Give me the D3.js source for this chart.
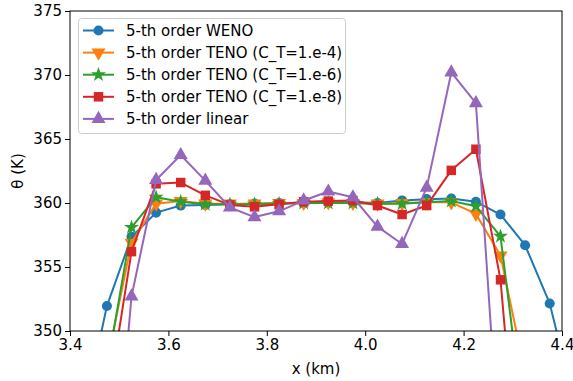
<!doctype html>
<meta charset='utf-8'>
<style>
  body { margin: 0; background: #fff; }
  text { font-family: 'DejaVu Sans', sans-serif; }
</style>
<body>
<script src='https://cdn.jsdelivr.net/npm/d3@7/dist/d3.min.js'></script>
<script>

// cell centres (km)
var xs = [3.425, 3.475, 3.525, 3.575, 3.625, 3.675, 3.725, 3.775, 3.825, 3.875, 3.925,
          3.975, 4.025, 4.075, 4.125, 4.175, 4.225, 4.275, 4.325, 4.375, 4.425];

var weno  = [343.0, 351.95, 357.35, 359.25, 359.8, 359.85, 359.9, 359.95, 360.0, 360.0, 360.05,
             360.05, 360.0, 360.2, 360.3, 360.35, 360.1, 359.1, 356.7, 352.15, 344.4];
var teno4 = [null, 347.5, 356.9, 359.95, 360.15, 359.95, 359.95, 359.95, 360.0, 360.0, 360.05,
             360.0, 359.95, 360.0, 360.05, 360.05, 359.15, 355.9, 346.7, null, null];
var teno6 = [null, 347.0, 358.1, 360.45, 360.1, 359.9, 359.9, 359.9, 359.95, 360.0, 360.0,
             360.0, 359.95, 359.95, 360.05, 360.15, 359.75, 357.4, 342.0, null, null];
var teno8 = [null, 344.0, 356.2, 361.5, 361.6, 360.6, 359.85, 359.7, 359.9, 360.1, 360.15,
             360.2, 359.8, 359.1, 359.8, 362.55, 364.2, 354.0, 332.0, null, null];
var linear = [null, 330.5, 352.7, 361.8, 363.75, 361.75, 359.65, 358.9, 359.35, 360.2, 360.9,
              360.45, 358.15, 356.8, 361.2, 370.2, 367.8, 339.0, null, null, null];

var seriesNames = ['5-th order WENO', '5-th order TENO (C_T=1.e-4)', '5-th order TENO (C_T=1.e-6)',
                   '5-th order TENO (C_T=1.e-8)', '5-th order linear'];
var seriesValues = [weno, teno4, teno6, teno8, linear];
var seriesColors = ['#1f77b4', '#ff7f0e', '#2ca02c', '#d62728', '#9467bd'];
var seriesMarkers = ['circle', 'triangleDown', 'star', 'square', 'triangle'];

var xTicks = [3.4, 3.6, 3.8, 4.0, 4.2, 4.4];
var yTicks = [350, 355, 360, 365, 370, 375];

var W = 573, H = 381;
var margin = {top: 11, right: 11, bottom: 50, left: 70};
var fs = 15;

var svg = d3.select('body').append('svg')
    .attr('width', W)
    .attr('height', H);

var x = d3.scaleLinear().domain([3.4, 4.4]).range([margin.left, W - margin.right]);
var y = d3.scaleLinear().domain([350, 375]).range([H - margin.bottom, margin.top]);

svg.append('clipPath').attr('id', 'clip')
  .append('rect')
    .attr('x', margin.left).attr('y', margin.top)
    .attr('width', x.range()[1] - margin.left)
    .attr('height', y.range()[0] - margin.top);

function markerPath(type) {
  var sym = {
    circle: d3.symbol(d3.symbolCircle, 80),
    square: d3.symbol(d3.symbolSquare, 90),
    star: d3.symbol(d3.symbolStar, 70),
    triangle: d3.symbol(d3.symbolTriangle, 85),
    triangleDown: d3.symbol(d3.symbolTriangle, 85)
  };
  return sym[type]();
}

var plot = svg.append('g').attr('clip-path', 'url(#clip)');

seriesValues.forEach(function(vals, i) {
  var pts = xs.map(function(xv, k) { return {x: xv, v: vals[k]}; })
    .filter(function(d) { return d.v != null; });

  var line = d3.line()
    .x(function(d) { return x(d.x); })
    .y(function(d) { return y(d.v); });

  var g = plot.append('g');
  g.append('path')
    .attr('d', line(pts))
    .attr('fill', 'none')
    .attr('stroke', seriesColors[i])
    .attr('stroke-width', 2)
    .attr('stroke-linejoin', 'round');

  g.selectAll('path.m')
    .data(pts)
    .enter().append('path')
    .attr('class', 'm')
    .attr('d', markerPath(seriesMarkers[i]))
    .attr('transform', function(d) {
      var t = 'translate(' + x(d.x) + ',' + y(d.v) + ')';
      if (seriesMarkers[i] === 'triangleDown') t += ' rotate(180)';
      return t;
    })
    .attr('fill', seriesColors[i]);
});

// axes
var xAxis = svg.append('g')
    .attr('transform', 'translate(0,' + y.range()[0] + ')')
    .call(d3.axisBottom(x).tickValues(xTicks).tickFormat(d3.format('.1f')).tickSizeOuter(0).tickSize(5).tickPadding(3));
var yAxis = svg.append('g')
    .attr('transform', 'translate(' + margin.left + ',0)')
    .call(d3.axisLeft(y).tickValues(yTicks).tickFormat(d3.format('d')).tickSizeOuter(0).tickSize(5).tickPadding(3));

[xAxis, yAxis].forEach(function(a) {
  a.select('.domain').remove();
  a.selectAll('text').attr('font-size', fs).attr('font-family', 'DejaVu Sans, sans-serif').attr('fill', '#000');
  a.selectAll('line').attr('stroke', '#000');
});

// frame
svg.append('rect')
    .attr('x', margin.left).attr('y', margin.top)
    .attr('width', x.range()[1] - margin.left)
    .attr('height', y.range()[0] - margin.top)
    .attr('fill', 'none')
    .attr('stroke', '#000')
    .attr('stroke-width', 1);

svg.append('text')
    .attr('x', (x.range()[0] + x.range()[1]) / 2)
    .attr('y', 374)
    .attr('text-anchor', 'middle')
    .attr('font-size', fs)
    .text('x (km)');

svg.append('text')
    .attr('transform', 'translate(23,' + ((y.range()[0] + y.range()[1]) / 2) + ') rotate(-90)')
    .attr('text-anchor', 'middle')
    .attr('font-size', fs)
    .text('θ (K)');

// legend
var legend = svg.append('g');
legend.append('rect')
    .attr('x', 78.5).attr('y', 18.5)
    .attr('width', 267).attr('height', 115)
    .attr('rx', 3)
    .attr('fill', '#fff').attr('fill-opacity', 0.8)
    .attr('stroke', '#ccc');

seriesNames.forEach(function(name, i) {
  var ly = 30.5 + i * 22.1;
  legend.append('line')
    .attr('x1', 83).attr('x2', 114)
    .attr('y1', ly).attr('y2', ly)
    .attr('stroke', seriesColors[i]).attr('stroke-width', 2);
  legend.append('path')
    .attr('d', markerPath(seriesMarkers[i]))
    .attr('transform', 'translate(98.5,' + ly + ')' + (seriesMarkers[i] === 'triangleDown' ? ' rotate(180)' : ''))
    .attr('fill', seriesColors[i]);
  legend.append('text')
    .attr('x', 126).attr('y', ly + 5.5)
    .attr('font-size', fs)
    .text(name);
});

</script>
